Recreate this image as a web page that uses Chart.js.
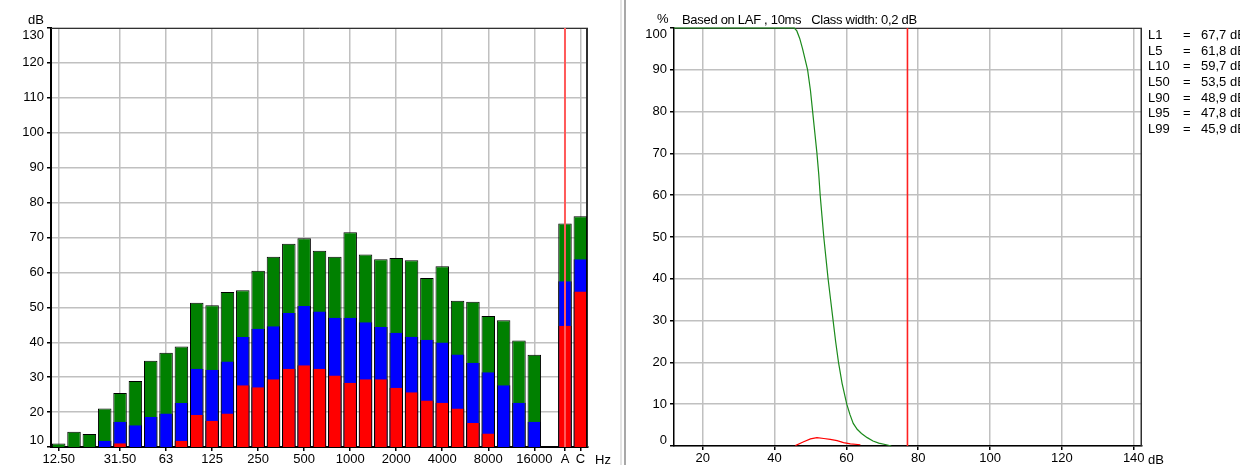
<!DOCTYPE html>
<html>
<head>
<meta charset="utf-8">
<script src="https://cdn.jsdelivr.net/npm/chart.js@4.4.1/dist/chart.umd.min.js"></script>
<style>
body{margin:0;background:#fff;width:1240px;height:465px;overflow:hidden;position:relative;
  font-family:'Liberation Sans',Arial,sans-serif;font-size:13px;color:#000}
.box{position:absolute;top:0;height:465px}
.txt{position:absolute;white-space:pre;line-height:16px}
.zeile{position:relative;height:15.67px;line-height:15.67px}
.zeile span{position:absolute;top:0;white-space:pre}
</style>
</head>
<body>
<div class="box" style="left:0;width:620px"><canvas id="spektrum"></canvas></div>
<div style="position:absolute;left:620px;top:0;width:2px;height:465px;background:#e4e4e4"></div>
<div style="position:absolute;left:624px;top:0;width:2px;height:465px;background:#a8a8a8"></div>
<div class="box" style="left:627px;width:613px"><canvas id="statistik"></canvas></div>

<div class="txt" style="left:28px;top:12px">dB</div>
<div class="txt" style="left:595px;top:452px">Hz</div>
<div class="txt" style="left:657px;top:11px">%</div>
<div class="txt" style="left:682px;top:12px;letter-spacing:-0.3px">Based on LAF , 10ms   Class width: 0,2 dB</div>
<div class="txt" style="left:1148px;top:452px">dB</div>
<div id="pegel" class="txt" style="left:1148px;top:27px"></div>

<script>
// Terzbaender + A/C Summenpegel
const baender = ["12.50","16","20","25","31.50","40","50","63","80","100","125","160","200","250","315","400","500","630","800","1000","1250","1600","2000","2500","3150","4000","5000","6300","8000","10000","12500","16000","20000","A","C"];
const beschriftet = ["12.50","31.50","63","125","250","500","1000","2000","4000","8000","16000","A","C"];

const lmax = [11.0,14.4,13.7,21.0,25.5,28.9,34.7,37.0,38.8,51.3,50.6,54.4,54.9,60.5,64.5,68.2,69.8,66.2,64.5,71.5,65.1,63.8,64.1,63.5,58.4,61.8,51.9,51.6,47.5,46.3,40.5,36.4,null,74.0,76.1];
const leq  = [null,null,null,11.8,17.2,16.2,18.6,19.6,22.6,32.4,32.1,34.5,41.5,43.9,44.6,48.4,50.4,48.8,47.0,47.0,45.7,44.4,42.7,41.6,40.7,39.9,36.5,34.1,31.4,27.7,22.7,17.2,null,57.5,63.8];
const lmin = [null,null,null,null,11.1,null,null,null,11.8,19.2,17.5,19.6,27.7,27.1,29.4,32.4,33.4,32.4,30.5,28.4,29.4,29.4,27.0,25.7,23.3,22.7,21.0,16.9,13.9,null,null,null,null,44.7,54.5];
const cursorBand = "A";

// Summenhaeufigkeit (gruen) und Haeufigkeit (rot)
const summePegel   = [12,45.5,46.2,47.0,47.8,48.5,49.2,50.0,50.6,51.2,51.8,52.3,52.7,53.2,53.7,54.3,54.9,55.6,56.3,57.0,57.8,58.8,60.1,61.0,61.9,63.0,64.2,65.8,67.4,69.0,71.1,72.5];
const summeProzent = [100,100,99.3,97.5,95,92.5,90,85,80,75,70,65,60,55,50,45,40,35,30,25,20,15,10,7.5,5.4,4,3,2,1.2,0.7,0.3,0];
const haeufPegel   = [45.8,48.1,50.0,51.8,53.7,55.5,57.4,59.2,61.1,63.9];
const haeufProzent = [0.1,1.0,1.7,2.0,1.8,1.6,1.3,0.8,0.5,0.3];
const cursorDb = 77;

const pegelNamen = ["L1","L5","L10","L50","L90","L95","L99"];
const pegelWerte = ["67,7","61,8","59,7","53,5","48,9","47,8","45,9"];

const schrift = "'Liberation Sans',Arial,sans-serif";
const gitter = "#c0c0c0";

document.getElementById("pegel").innerHTML = pegelNamen.map((n, i) =>
  '<div class="zeile"><span style="left:0">' + n + '</span><span style="left:35px">=</span><span style="left:53px">' + pegelWerte[i] + ' dB</span></div>'
).join("");

// Rahmen oben/rechts und Cursorlinie
const rahmen = {
  id: "rahmen",
  beforeDatasetsDraw(chart, args, opts) {
    const {ctx, chartArea: a} = chart;
    ctx.save();
    ctx.strokeStyle = "#303030";
    ctx.lineWidth = 1;
    ctx.beginPath();
    ctx.moveTo(a.left, a.top + 0.5);
    ctx.lineTo(a.right - 0.5, a.top + 0.5);
    ctx.stroke();
    ctx.lineWidth = opts.rechts || 1;
    ctx.beginPath();
    ctx.moveTo(a.right - ctx.lineWidth / 2, a.top);
    ctx.lineTo(a.right - ctx.lineWidth / 2, a.bottom);
    ctx.stroke();
    ctx.restore();
  },
  afterDatasetsDraw(chart, args, opts) {
    if (opts.cursor === undefined) return;
    const {ctx, chartArea: a} = chart;
    const x = chart.scales.x.getPixelForValue(opts.cursor);
    ctx.save();
    ctx.strokeStyle = opts.farbe;
    ctx.lineWidth = opts.breite;
    ctx.beginPath();
    ctx.moveTo(x, a.top);
    ctx.lineTo(x, a.bottom);
    ctx.stroke();
    ctx.restore();
  }
};

new Chart(document.getElementById("spektrum"), {
  type: "bar",
  data: {
    labels: baender,
    datasets: [
      {label: "Lmin", data: lmin, backgroundColor: "#ff0000", borderColor: "#000", borderWidth: {left: 1, right: 1, top: 0, bottom: 0}, order: 1},
      {label: "Leq", data: leq, backgroundColor: "#0000ff", borderColor: "#000", borderWidth: {left: 1, right: 1, top: 0, bottom: 0}, order: 2},
      {label: "Lmax", data: lmax, backgroundColor: "#008000", borderColor: "#000", borderWidth: 1, order: 3}
    ]
  },
  options: {
    animation: false,
    responsive: true,
    maintainAspectRatio: false,
    layout: {padding: {top: 28, right: 32, left: 0, bottom: 0}},
    datasets: {bar: {grouped: false, barPercentage: 0.88, categoryPercentage: 1.0}},
    plugins: {
      legend: {display: false},
      tooltip: {enabled: false},
      rahmen: {cursor: baender.indexOf(cursorBand), farbe: "#ff5a5a", breite: 2, rechts: 2}
    },
    scales: {
      x: {
        offset: true,
        afterFit: s => { s.height = 18; },
        border: {color: "#000", width: 2},
        grid: {
          offset: false,
          tickLength: 4,
          color: c => (beschriftet.includes(baender[c.index]) && baender[c.index] !== cursorBand) ? gitter : "transparent",
          tickColor: c => beschriftet.includes(baender[c.index]) ? "#000" : "transparent",
          lineWidth: 1.5
        },
        ticks: {
          autoSkip: false,
          maxRotation: 0,
          padding: 1,
          color: "#000",
          font: {family: schrift, size: 13, lineHeight: 1.2},
          callback: (v, i) => beschriftet.includes(baender[i]) ? baender[i] : ""
        }
      },
      y: {
        min: 10,
        max: 130,
        afterFit: s => { s.width = 51; },
        border: {color: "#000", width: 2},
        grid: {color: gitter, tickColor: "#000", tickLength: 4, lineWidth: 1.5},
        ticks: {
          stepSize: 10,
          padding: 3,
          color: "#000",
          font: {family: schrift, size: 13, lineHeight: 1.08},
          callback: v => v === 130 ? ["", "130"] : v === 10 ? ["10", ""] : String(v)
        }
      }
    }
  },
  plugins: [rahmen]
});

new Chart(document.getElementById("statistik"), {
  type: "line",
  data: {
    datasets: [
      {data: summePegel.map((p, i) => ({x: p, y: summeProzent[i]})), borderColor: "#1b8a1b", borderWidth: 1.2, pointRadius: 0, tension: 0, clip: false},
      {data: haeufPegel.map((p, i) => ({x: p, y: haeufProzent[i]})), borderColor: "#ff0000", borderWidth: 1.2, pointRadius: 0, tension: 0}
    ]
  },
  options: {
    animation: false,
    responsive: true,
    maintainAspectRatio: false,
    layout: {padding: {top: 28, right: 98, left: 0, bottom: 0}},
    plugins: {
      legend: {display: false},
      tooltip: {enabled: false},
      rahmen: {cursor: cursorDb, farbe: "#ff2020", breite: 1.6, rechts: 1.5}
    },
    scales: {
      x: {
        type: "linear",
        min: 12,
        max: 142.3,
        afterFit: s => { s.height = 19; },
        border: {color: "#000", width: 1.5},
        grid: {color: gitter, tickColor: "#000", tickLength: 4, lineWidth: 1.5},
        ticks: {
          stepSize: 20,
          includeBounds: false,
          maxRotation: 0,
          padding: 1,
          color: "#000",
          font: {family: schrift, size: 13, lineHeight: 1.2}
        }
      },
      y: {
        min: 0,
        max: 100,
        afterFit: s => { s.width = 47; },
        border: {color: "#000", width: 1.5},
        grid: {color: gitter, tickColor: "#000", tickLength: 4, lineWidth: 1.5},
        ticks: {
          stepSize: 10,
          padding: 3,
          color: "#000",
          font: {family: schrift, size: 13, lineHeight: 0.93},
          callback: v => v === 100 ? ["", "100"] : v === 0 ? ["0", ""] : String(v)
        }
      }
    }
  },
  plugins: [rahmen]
});
</script>
</body>
</html>
